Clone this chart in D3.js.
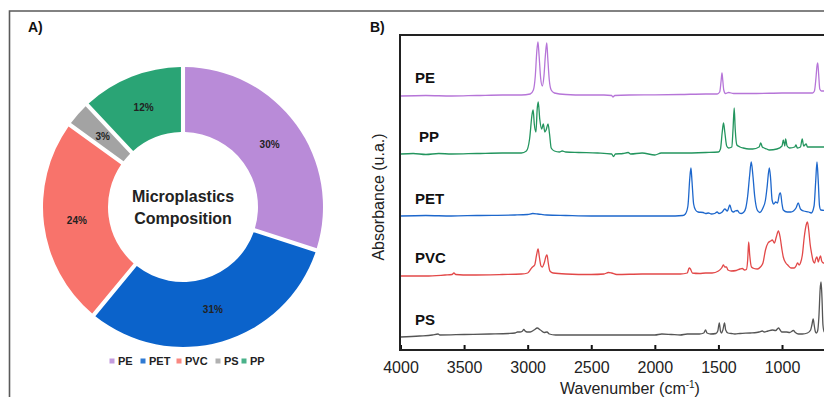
<!DOCTYPE html>
<html>
<head>
<meta charset="utf-8">
<script src="https://cdn.jsdelivr.net/npm/d3@7"></script>
<style>
  body { margin: 0; background: #fff; }
  svg { display: block; font-family: "Liberation Sans", Arial, sans-serif; }
</style>
</head>
<body>
<svg id="chart" width="824" height="397"></svg>
<script>
// panel A: composition
const polymers = ['PE', 'PET', 'PVC', 'PS', 'PP'];
const shares = [30, 31, 24, 3, 12];
const pieColors = ['#b98bd8', '#0b63cb', '#f8736b', '#a3a3a3', '#2aa475'];

// panel B: FTIR spectra, [wavenumber, absorbance above own baseline]
const spectraNames = ['PE', 'PP', 'PET', 'PVC', 'PS'];
const spectraOffsets = [2.54, 1.96, 1.34, 0.75, 0.13];
const spectraColors = ['#b675d8', '#23955e', '#1d67cc', '#e24848', '#555555'];
const xTicks = [4000, 3500, 3000, 2500, 2000, 1500, 1000];

const pe = [[4000,0],[3800,0.005],[3600,0],[3400,0.005],[3200,0.01],[3050,0.01],[2980,0.02],[2955,0.06],[2940,0.2],[2928,0.45],[2919,0.54],[2910,0.4],[2898,0.18],[2885,0.1],[2872,0.2],[2860,0.42],[2850,0.53],[2842,0.38],[2830,0.16],[2815,0.06],[2790,0.03],[2700,0.015],[2550,0.01],[2400,0.01],[2340,0.005],[2330,-0.01],[2315,0.005],[2200,0.01],[2000,0.012],[1800,0.015],[1600,0.02],[1510,0.02],[1490,0.04],[1479,0.15],[1472,0.23],[1466,0.16],[1458,0.06],[1445,0.025],[1420,0.035],[1380,0.025],[1200,0.025],[1000,0.03],[850,0.03],[760,0.03],[745,0.05],[733,0.18],[725,0.3],[719,0.33],[712,0.22],[703,0.07],[690,0.05],[600,0.05],[400,0.05]];

const pp = [[4000,0],[3900,0.005],[3800,-0.005],[3700,0.005],[3600,0],[3400,0.005],[3200,0.01],[3050,0.01],[3010,0.03],[2985,0.15],[2965,0.4],[2957,0.44],[2948,0.3],[2935,0.22],[2925,0.45],[2917,0.52],[2905,0.35],[2890,0.25],[2877,0.3],[2865,0.22],[2855,0.24],[2840,0.3],[2828,0.2],[2815,0.06],[2790,0.03],[2750,0.02],[2729,0.03],[2700,0.02],[2600,0.015],[2450,0.01],[2340,0],[2325,-0.025],[2310,0],[2250,0.005],[2210,0.015],[2190,0],[2100,0.01],[2000,-0.01],[1950,0.01],[1800,0.01],[1600,0.015],[1500,0.02],[1484,0.05],[1470,0.22],[1460,0.31],[1450,0.22],[1435,0.08],[1420,0.06],[1395,0.07],[1385,0.25],[1376,0.46],[1368,0.25],[1355,0.09],[1330,0.07],[1305,0.06],[1260,0.05],[1230,0.05],[1180,0.07],[1167,0.11],[1155,0.07],[1120,0.05],[1100,0.04],[1040,0.05],[1000,0.08],[990,0.14],[978,0.08],[972,0.15],[960,0.08],[940,0.06],[900,0.07],[890,0.09],[880,0.06],[855,0.07],[841,0.15],[830,0.08],[810,0.1],[800,0.07],[700,0.07],[600,0.07],[400,0.07]];

const pet = [[4000,0],[3800,0.005],[3600,0],[3400,0.005],[3100,0.01],[3000,0.015],[2960,0.025],[2920,0.02],[2850,0.01],[2700,0.005],[2500,0],[2300,0],[2100,0],[1900,0],[1780,0.005],[1760,0.02],[1740,0.1],[1725,0.38],[1716,0.48],[1708,0.35],[1695,0.12],[1680,0.06],[1660,0.04],[1620,0.035],[1600,0.025],[1578,0.03],[1555,0.02],[1530,0.025],[1510,0.04],[1495,0.025],[1470,0.04],[1450,0.07],[1430,0.05],[1410,0.11],[1395,0.05],[1380,0.04],[1370,0.05],[1350,0.055],[1335,0.03],[1320,0.025],[1300,0.04],[1285,0.08],[1270,0.2],[1255,0.4],[1242,0.54],[1230,0.42],[1215,0.2],[1195,0.06],[1175,0.035],[1150,0.08],[1130,0.16],[1118,0.28],[1100,0.48],[1090,0.38],[1078,0.16],[1065,0.12],[1050,0.14],[1035,0.13],[1020,0.22],[1012,0.23],[1000,0.12],[990,0.06],[960,0.04],[930,0.04],[910,0.05],[890,0.08],[872,0.13],[855,0.07],[830,0.05],[790,0.04],[770,0.03],[748,0.1],[735,0.35],[725,0.54],[715,0.35],[705,0.1],[695,0.06],[600,0.05],[400,0.05]];

const pvc = [[4000,-0.01],[3800,-0.01],[3650,0],[3595,0.005],[3580,0.02],[3565,0.005],[3450,0],[3200,0.005],[3050,0.01],[3000,0.02],[2975,0.06],[2962,0.08],[2945,0.1],[2930,0.2],[2918,0.26],[2908,0.18],[2895,0.09],[2885,0.08],[2870,0.12],[2855,0.19],[2848,0.2],[2838,0.12],[2825,0.04],[2800,0.02],[2700,0.01],[2500,0.005],[2400,0.01],[2365,0.025],[2340,0.02],[2300,0.005],[2100,0.01],[1900,0.01],[1800,0.01],[1745,0.02],[1730,0.07],[1720,0.06],[1705,0.02],[1650,0.015],[1600,0.02],[1550,0.02],[1500,0.04],[1475,0.07],[1461,0.1],[1450,0.08],[1437,0.08],[1425,0.05],[1400,0.04],[1360,0.045],[1330,0.06],[1312,0.065],[1295,0.05],[1280,0.055],[1270,0.15],[1262,0.33],[1254,0.2],[1240,0.08],[1220,0.065],[1193,0.06],[1170,0.08],[1150,0.12],[1130,0.25],[1110,0.32],[1090,0.34],[1076,0.35],[1060,0.32],[1045,0.38],[1028,0.44],[1015,0.38],[1000,0.25],[990,0.18],[970,0.12],[955,0.1],[930,0.07],[905,0.07],[890,0.09],[878,0.12],[865,0.1],[855,0.12],[840,0.2],[825,0.38],[810,0.5],[800,0.53],[790,0.45],[778,0.3],[768,0.22],[755,0.14],[744,0.12],[735,0.16],[725,0.18],[715,0.13],[705,0.17],[697,0.19],[688,0.14],[675,0.12],[600,0.12],[400,0.12]];

const ps = [[4000,0],[3850,0.01],[3750,0.02],[3705,0.03],[3690,0.02],[3500,0.025],[3300,0.03],[3150,0.035],[3100,0.04],[3080,0.05],[3060,0.05],[3045,0.055],[3030,0.075],[3020,0.06],[3004,0.05],[2980,0.05],[2950,0.07],[2925,0.09],[2900,0.07],[2870,0.045],[2848,0.05],[2830,0.03],[2780,0.02],[2600,0.02],[2400,0.02],[2200,0.02],[2000,0.02],[1945,0.03],[1870,0.025],[1800,0.02],[1745,0.03],[1700,0.03],[1650,0.03],[1615,0.04],[1601,0.07],[1590,0.04],[1560,0.03],[1520,0.035],[1505,0.06],[1493,0.14],[1484,0.06],[1476,0.04],[1465,0.07],[1452,0.14],[1443,0.07],[1425,0.04],[1400,0.035],[1370,0.03],[1330,0.035],[1250,0.04],[1200,0.045],[1180,0.05],[1155,0.06],[1140,0.05],[1110,0.06],[1076,0.07],[1050,0.065],[1028,0.09],[1015,0.07],[1000,0.05],[965,0.05],[940,0.045],[910,0.065],[895,0.045],[870,0.03],[840,0.03],[800,0.04],[775,0.07],[765,0.12],[755,0.18],[747,0.12],[737,0.05],[730,0.04],[720,0.06],[710,0.2],[700,0.48],[693,0.55],[686,0.4],[678,0.12],[668,0.05],[600,0.04],[400,0.04]];

const spectra = [pe, pp, pet, pvc, ps];

const svg = d3.select('#chart');

// outer frame (right and bottom edges are cut off in the original)
svg.append('path')
  .attr('d', 'M9.5,397 V11 H824')
  .attr('fill', 'none')
  .attr('stroke', '#5a5a5a')
  .attr('stroke-width', 1.6);

svg.append('text').attr('x', 28).attr('y', 32)
  .attr('font-size', 14).attr('font-weight', 'bold').attr('fill', '#111')
  .text('A)');
svg.append('text').attr('x', 370).attr('y', 32)
  .attr('font-size', 14).attr('font-weight', 'bold').attr('fill', '#111')
  .text('B)');

// ---------- donut ----------
const cx = 183, cy = 207;
const pie = d3.pie().sort(null).value(d => d);
const arc = d3.arc().innerRadius(75).outerRadius(140).padAngle(0.026);
const labelArc = d3.arc().innerRadius(107).outerRadius(107);

const donut = svg.append('g').attr('transform', `translate(${cx},${cy})`);
const arcs = pie(shares);

donut.selectAll('path.slice')
  .data(arcs)
  .join('path')
  .attr('class', 'slice')
  .attr('d', arc)
  .attr('fill', (d, i) => pieColors[i]);

donut.selectAll('text.pct')
  .data(arcs)
  .join('text')
  .attr('class', 'pct')
  .attr('transform', d => `translate(${labelArc.centroid(d)})`)
  .attr('text-anchor', 'middle')
  .attr('dy', '0.35em')
  .attr('font-size', 10)
  .attr('font-weight', 'bold')
  .attr('fill', '#222')
  .text(d => d.data + '%');

donut.append('text')
  .attr('text-anchor', 'middle').attr('y', -5)
  .attr('font-size', 16).attr('font-weight', 'bold').attr('fill', '#222')
  .text('Microplastics');
donut.append('text')
  .attr('text-anchor', 'middle').attr('y', 17)
  .attr('font-size', 16).attr('font-weight', 'bold').attr('fill', '#222')
  .text('Composition');

// legend
const legendX = [112, 143, 179, 218, 244];
const legend = svg.append('g').attr('transform', 'translate(0,361)');
const item = legend.selectAll('g')
  .data(polymers)
  .join('g')
  .attr('transform', (d, i) => `translate(${legendX[i]},0)`);
item.append('rect')
  .attr('x', -2.5).attr('y', -2.5).attr('width', 5).attr('height', 5)
  .attr('fill', (d, i) => pieColors[i]).attr('opacity', 0.85);
item.append('text')
  .attr('x', 6).attr('dy', '0.36em')
  .attr('font-size', 11).attr('font-weight', 'bold').attr('fill', '#222')
  .text(d => d);

// ---------- spectra ----------
const plotLeft = 400.5, plotTop = 35, plotBottom = 350;
const x = d3.scaleLinear().domain([4000, 400]).range([plotLeft, plotLeft + 3600 * 0.12717]);
const y = d3.scaleLinear().domain([0, 3.15]).range([plotBottom, plotTop]);

svg.append('defs').append('clipPath').attr('id', 'plotclip')
  .append('rect').attr('x', plotLeft).attr('y', plotTop - 30)
  .attr('width', 824 - plotLeft).attr('height', plotBottom - plotTop + 30);

const plot = svg.append('g').attr('clip-path', 'url(#plotclip)');

spectra.forEach((s, i) => {
  const line = d3.line()
    .x(d => x(d[0]))
    .y(d => y(d[1] + spectraOffsets[i]))
    .curve(d3.curveMonotoneX);
  plot.append('path')
    .datum(s)
    .attr('d', line)
    .attr('fill', 'none')
    .attr('stroke', spectraColors[i])
    .attr('stroke-width', 1.3)
    .attr('stroke-linejoin', 'round');
});

const nameX = [415, 419, 415, 415, 415];
const nameY = [83, 142, 204, 263, 325];
svg.selectAll('text.spec')
  .data(spectraNames)
  .join('text')
  .attr('class', 'spec')
  .attr('x', (d, i) => nameX[i])
  .attr('y', (d, i) => nameY[i])
  .attr('font-size', 15).attr('font-weight', 'bold').attr('fill', '#111')
  .text(d => d);

// x axis: ticks point into the plot
const xAxis = d3.axisBottom(x)
  .tickValues(xTicks)
  .tickSizeInner(-5)
  .tickSizeOuter(0)
  .tickPadding(12)
  .tickFormat(d3.format('d'));
const gx = svg.append('g').attr('transform', `translate(0,${plotBottom})`).call(xAxis);
gx.select('.domain').remove();
gx.selectAll('.tick line').attr('stroke', '#111').attr('stroke-width', 2);
gx.selectAll('.tick text')
  .attr('font-size', 16).attr('fill', '#222')
  .attr('font-family', '"Liberation Sans", Arial, sans-serif');

// plot frame: left, bottom and top edges
svg.append('path')
  .attr('d', `M824,${plotTop} H${plotLeft - 0.5} V${plotBottom} H824`)
  .attr('fill', 'none')
  .attr('stroke', '#222')
  .attr('stroke-width', 2);

const xTitle = svg.append('text')
  .attr('x', 630).attr('y', 394)
  .attr('text-anchor', 'middle')
  .attr('font-size', 16).attr('fill', '#222');
xTitle.append('tspan').text('Wavenumber (cm');
xTitle.append('tspan').attr('font-size', 10).attr('dy', -6).text('-1');
xTitle.append('tspan').attr('dy', 6).text(')');

svg.append('text')
  .attr('transform', 'translate(384,197) rotate(-90)')
  .attr('text-anchor', 'middle')
  .attr('font-size', 16).attr('fill', '#222')
  .text('Absorbance (u.a.)');
</script>
</body>
</html>
